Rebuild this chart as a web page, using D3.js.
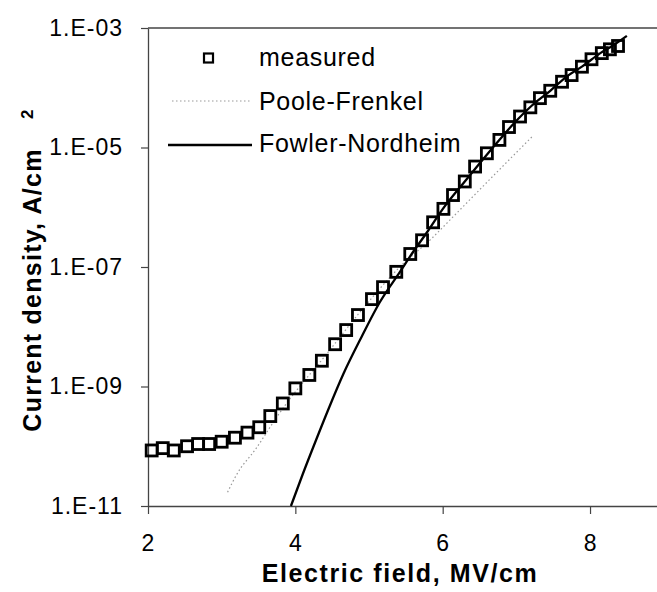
<!DOCTYPE html>
<html lang="en">
<head>
  <meta charset="UTF-8">
  <title>Current density vs field</title>
  <script src="https://d3js.org/d3.v7.min.js"></script>
  <style>
    body { margin: 0; background: #fff; }
    svg { display: block; font-family: "Liberation Sans", Arial, sans-serif; }
  </style>
</head>
<body>
  <svg width="657" height="592"></svg>

  <script>
    // measured points (MV/cm, A/cm2)
    const measuredField = [2.05, 2.20, 2.35, 2.53, 2.68, 2.83, 3.00, 3.18, 3.35, 3.51, 3.66, 3.83,
      4.00, 4.19, 4.36, 4.54, 4.69, 4.85, 5.04, 5.19, 5.37, 5.56, 5.72, 5.87, 6.01, 6.14,
      6.30, 6.44, 6.60, 6.77, 6.90, 7.05, 7.19, 7.32, 7.46, 7.62, 7.75, 7.89, 8.02, 8.16,
      8.27, 8.38];
    const measuredJ = [8.5e-11, 9.3e-11, 8.5e-11, 1.0e-10, 1.09e-10, 1.09e-10, 1.19e-10, 1.39e-10,
      1.69e-10, 2.08e-10, 3.2e-10, 5.2e-10, 9.3e-10, 1.56e-9, 2.7e-9, 5.1e-9, 8.8e-9, 1.57e-8,
      2.9e-8, 4.6e-8, 8.3e-8, 1.65e-7, 2.8e-7, 5.6e-7, 9.4e-7, 1.6e-6, 2.7e-6, 4.8e-6, 8.0e-6,
      1.34e-5, 2.2e-5, 3.3e-5, 4.7e-5, 6.7e-5, 8.9e-5, 1.26e-4, 1.63e-4, 2.25e-4, 3.0e-4,
      3.8e-4, 4.4e-4, 5.0e-4];

    // Poole-Frenkel fit
    const pfField = [3.08, 3.20, 3.47, 3.75, 3.88, 4.40, 4.90, 5.40, 5.85, 6.14, 6.73, 7.21];
    const pfJ = [1.7e-11, 3.3e-11, 9.3e-11, 3.1e-10, 5.2e-10, 3.2e-9, 1.9e-8, 9.5e-8, 3.0e-7,
      6.9e-7, 3.8e-6, 1.5e-5];

    // Fowler-Nordheim fit
    const fnField = [3.94, 4.10, 4.28, 4.46, 4.65, 4.90, 5.14, 5.42, 5.60, 5.80, 6.00, 6.30,
      6.50, 6.76, 7.00, 7.20, 7.46, 7.70, 7.90, 8.14, 8.30, 8.50];
    const fnJ = [1.0e-11, 3.4e-11, 1.26e-10, 4.5e-10, 1.6e-9, 6.8e-9, 2.5e-8, 8.3e-8, 1.8e-7,
      4.0e-7, 9.3e-7, 2.7e-6, 5.4e-6, 1.3e-5, 2.8e-5, 4.9e-5, 8.9e-5, 1.6e-4, 2.3e-4, 3.8e-4,
      5.0e-4, 7.4e-4];

    const xTicks = [2, 4, 6, 8];
    const yTicks = [1e-11, 1e-9, 1e-7, 1e-5, 1e-3];
    const yTickLabels = ['1.E-11', '1.E-09', '1.E-07', '1.E-05', '1.E-03'];

    const margin = {left: 148, right: 663.7, top: 28, bottom: 506};
    const axisColor = '#444';

    const svg = d3.select('svg');

    const xScale = d3.scaleLinear().domain([2, 9]).range([margin.left, margin.right]);
    const yScale = d3.scaleLog().domain([1e-11, 1e-3]).range([margin.bottom, margin.top]);

    // top frame line
    svg.append('line')
      .attr('x1', margin.left).attr('x2', 657)
      .attr('y1', margin.top).attr('y2', margin.top)
      .attr('stroke', axisColor).attr('stroke-width', 1.3);

    const xAxis = d3.axisBottom(xScale).tickValues(xTicks).tickFormat(d3.format('d'))
      .tickSize(8).tickSizeOuter(0).tickPadding(21);
    const yAxis = d3.axisLeft(yScale).tickValues(yTicks)
      .tickFormat((d, i) => yTickLabels[i]).tickSize(7).tickSizeOuter(0).tickPadding(18);

    const gx = svg.append('g').attr('transform', `translate(0,${margin.bottom})`).call(xAxis);
    const gy = svg.append('g').attr('transform', `translate(${margin.left},0)`).call(yAxis);

    [gx, gy].forEach(g => {
      g.select('.domain').attr('stroke', axisColor).attr('stroke-width', 1.3);
      g.selectAll('.tick line').attr('stroke', axisColor).attr('stroke-width', 1.2);
      g.selectAll('.tick text')
        .attr('fill', '#000')
        .style('font-size', '23px')
        .style('letter-spacing', '1px')
        .style('font-family', '"Liberation Sans", Arial, sans-serif');
    });

    const pts = (xs, ys) => xs.map((x, i) => [x, ys[i]]);

    const line = d3.line()
      .x(d => xScale(d[0]))
      .y(d => yScale(d[1]))
      .curve(d3.curveMonotoneX);

    svg.append('path')
      .attr('d', line(pts(pfField, pfJ)))
      .attr('fill', 'none')
      .attr('stroke', '#999')
      .attr('stroke-width', 1.2)
      .attr('stroke-dasharray', '1.5,2.5');

    svg.append('path')
      .attr('d', line(pts(fnField, fnJ)))
      .attr('fill', 'none')
      .attr('stroke', '#000')
      .attr('stroke-width', 2.3);

    const sq = 11;
    svg.append('g').selectAll('rect')
      .data(pts(measuredField, measuredJ))
      .join('rect')
      .attr('x', d => xScale(d[0]) - sq / 2)
      .attr('y', d => yScale(d[1]) - sq / 2)
      .attr('width', sq).attr('height', sq)
      .attr('fill', 'none')
      .attr('stroke', '#000')
      .attr('stroke-width', 2.8);

    // legend
    const legend = svg.append('g')
      .style('font-size', '25px')
      .style('letter-spacing', '0.7px');

    legend.append('rect')
      .attr('x', 204).attr('y', 53.5).attr('width', 9).attr('height', 9)
      .attr('fill', 'none').attr('stroke', '#000').attr('stroke-width', 2.2);
    legend.append('text').attr('x', 259).attr('y', 66).text('measured');

    legend.append('line')
      .attr('x1', 172).attr('x2', 250).attr('y1', 101).attr('y2', 101)
      .attr('stroke', '#999').attr('stroke-width', 1.2).attr('stroke-dasharray', '1.5,2.5');
    legend.append('text').attr('x', 259).attr('y', 110).text('Poole-Frenkel');

    legend.append('line')
      .attr('x1', 168).attr('x2', 252).attr('y1', 145).attr('y2', 145)
      .attr('stroke', '#000').attr('stroke-width', 2.3);
    legend.append('text').attr('x', 259).attr('y', 152).text('Fowler-Nordheim');

    // axis titles
    svg.append('text')
      .attr('x', 400).attr('y', 582)
      .attr('text-anchor', 'middle')
      .style('font-size', '25px').style('font-weight', 'bold').style('letter-spacing', '1.6px')
      .text('Electric field, MV/cm');

    svg.append('text')
      .attr('transform', 'translate(41,290) rotate(-90)')
      .attr('text-anchor', 'middle')
      .style('font-size', '25px').style('font-weight', 'bold').style('letter-spacing', '1.25px')
      .text('Current density, A/cm');

    svg.append('text')
      .attr('transform', 'translate(33,119) rotate(-90)')
      .style('font-size', '17px').style('font-weight', 'bold')
      .text('2');
  </script>
</body>
</html>
